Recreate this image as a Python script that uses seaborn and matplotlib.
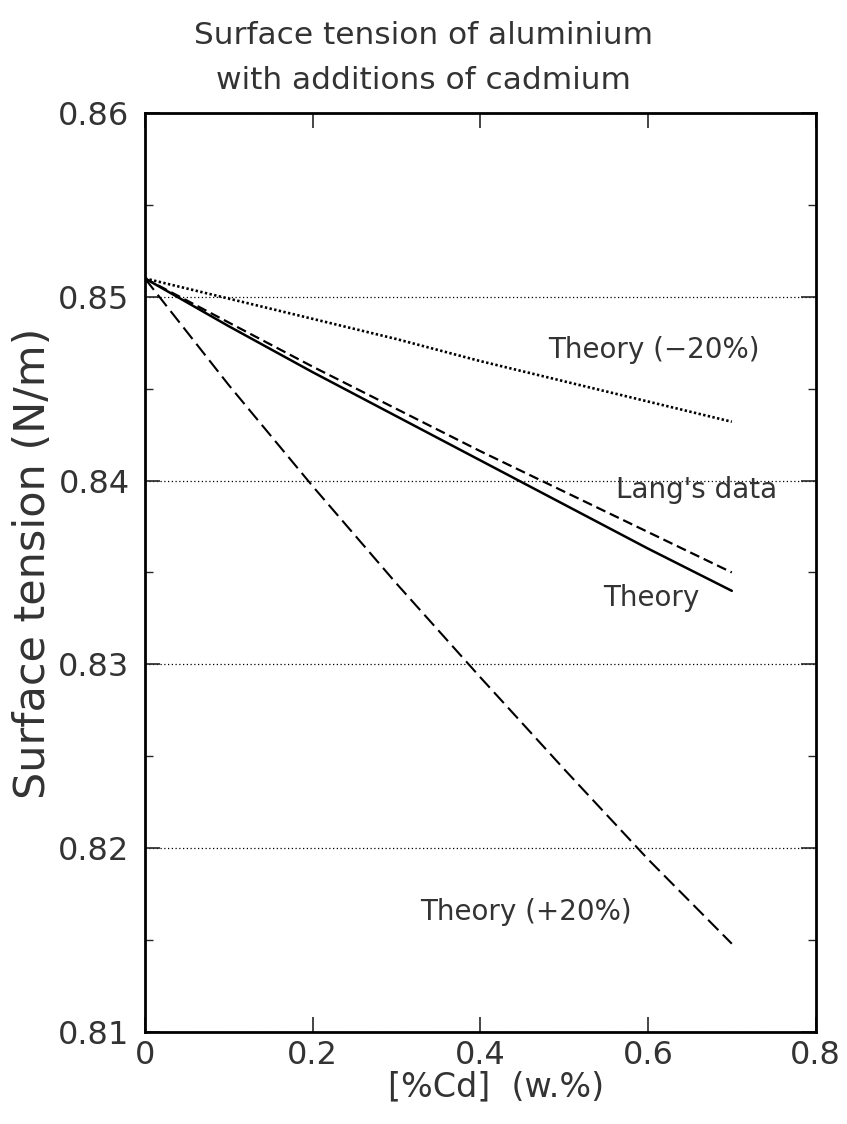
import matplotlib
matplotlib.use("Agg")
import matplotlib.pyplot as plt
import seaborn as sns
import pandas as pd
from matplotlib.ticker import MultipleLocator

# Cadmium content (w.%) and surface tension (N/m) for each curve
cd = [0.0, 0.1, 0.2, 0.3, 0.4, 0.5, 0.6, 0.7]
theory = [0.8510, 0.8484, 0.8459, 0.8435, 0.8411, 0.8387, 0.8363, 0.8340]
lang_data = [0.8510, 0.8486, 0.8462, 0.8439, 0.8416, 0.8394, 0.8372, 0.8350]
theory_minus20 = [0.8510, 0.8499, 0.8488, 0.8477, 0.8465, 0.8454, 0.8443, 0.8432]
theory_plus20 = [0.8510, 0.8452, 0.8397, 0.8344, 0.8293, 0.8243, 0.8194, 0.8148]

x_ticks = [0, 0.2, 0.4, 0.6, 0.8]
x_tick_labels = ["0", "0.2", "0.4", "0.6", "0.8"]
y_ticks = [0.81, 0.82, 0.83, 0.84, 0.85, 0.86]
y_tick_labels = ["0.81", "0.82", "0.83", "0.84", "0.85", "0.86"]

sns.set_theme(style="ticks")
plt.rcParams["font.family"] = ["DejaVu Sans"]
ink = "#333333"

df = pd.DataFrame({
    "cd": cd * 4,
    "sigma": theory + lang_data + theory_minus20 + theory_plus20,
    "curve": (["Theory"] * len(cd) + ["Lang's data"] * len(cd)
              + ["Theory (−20%)"] * len(cd) + ["Theory (+20%)"] * len(cd)),
})

fig = plt.figure(figsize=(8.47, 11.24), dpi=100)
ax = fig.add_axes([0.171, 0.0819, 0.792, 0.8176])

styles = {
    "Theory": dict(linestyle="-", linewidth=1.8),
    "Lang's data": dict(linestyle=(0, (4.5, 2.2)), linewidth=1.6),
    "Theory (−20%)": dict(linestyle=(0, (0.9, 0.9)), linewidth=1.9),
    "Theory (+20%)": dict(linestyle=(0, (7, 3)), linewidth=1.5),
}
for name, st in styles.items():
    sub = df[df["curve"] == name]
    sns.lineplot(data=sub, x="cd", y="sigma", ax=ax, color="black",
                 legend=False, **st)

ax.set_xlim(0, 0.8)
ax.set_ylim(0.81, 0.86)
ax.set_xticks(x_ticks)
ax.set_xticklabels(x_tick_labels)
ax.set_yticks(y_ticks)
ax.set_yticklabels(y_tick_labels)
ax.yaxis.set_minor_locator(MultipleLocator(0.005))

ax.tick_params(axis="both", which="major", direction="in", length=11,
               width=1.2, top=True, right=True, labelsize=23,
               labelcolor=ink)
ax.tick_params(axis="x", which="major", pad=6)
ax.tick_params(axis="y", which="major", pad=11)
ax.tick_params(axis="y", which="minor", direction="in", length=6,
               width=1.0, left=True, right=True)
for sp in ax.spines.values():
    sp.set_linewidth(2.0)
    sp.set_color("black")

ax.yaxis.grid(True, which="major", linestyle=(0, (1, 2)), linewidth=0.9,
              color="black")
ax.xaxis.grid(False)

ax.set_xlabel("[%Cd]  (w.%)", fontsize=24, color=ink)
ax.xaxis.set_label_coords(0.523, -0.042)
ax.set_ylabel("Surface tension (N/m)", fontsize=31, color=ink)
ax.yaxis.set_label_coords(-0.136, 0.51)

label_kw = dict(fontsize=20, color=ink, va="center", ha="left")
ax.text(0.481, 0.8471, "Theory (−20%)", **label_kw)
ax.text(0.562, 0.8395, "Lang's data", **label_kw)
ax.text(0.546, 0.8336, "Theory", **label_kw)
ax.text(0.328, 0.8165, "Theory (+20%)", **label_kw)

fig.text(0.5, 0.968, "Surface tension of aluminium", ha="center",
         va="center", fontsize=22.5, color=ink)
fig.text(0.5, 0.928, "with additions of cadmium", ha="center",
         va="center", fontsize=22.5, color=ink)

fig.savefig("out.png", dpi=100, facecolor="white")
